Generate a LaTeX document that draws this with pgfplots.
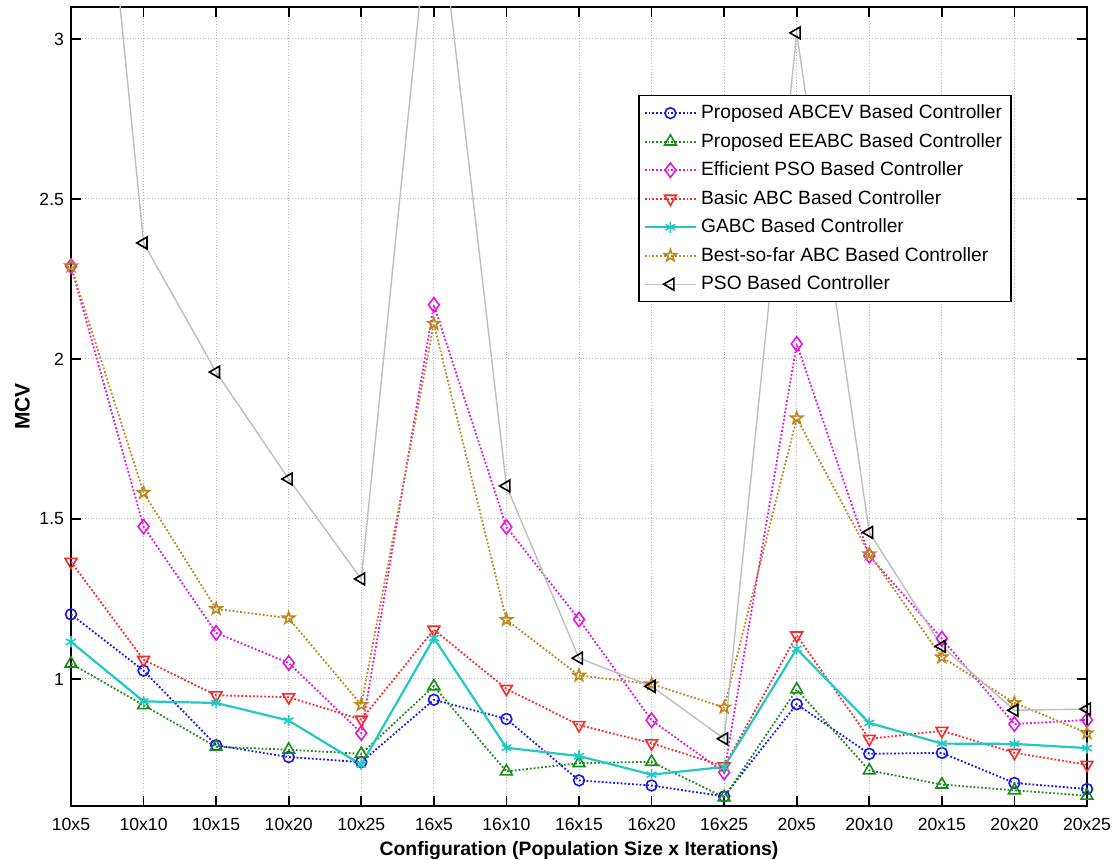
\documentclass[border=0pt]{standalone}
\usepackage{fontspec}
\setmainfont{Liberation Sans}
\usepackage{pgfplots}
\pgfplotsset{compat=1.18}
\usepackage{pgfplotstable}

\definecolor{cblue}{RGB}{20,20,245}
\definecolor{cgreen}{RGB}{25,140,25}
\definecolor{cmag}{RGB}{225,20,225}
\definecolor{cred}{RGB}{250,40,40}
\definecolor{ccyan}{RGB}{35,200,195}
\definecolor{corange}{RGB}{190,135,25}
\definecolor{cgray}{RGB}{190,190,190}

\pgfdeclareplotmark{pentagram}{%
  \pgfpathmoveto{\pgfpointpolar{90}{1.2\pgfplotmarksize}}%
  \pgfpathlineto{\pgfpointpolar{126}{0.48\pgfplotmarksize}}%
  \pgfpathlineto{\pgfpointpolar{162}{1.2\pgfplotmarksize}}%
  \pgfpathlineto{\pgfpointpolar{198}{0.48\pgfplotmarksize}}%
  \pgfpathlineto{\pgfpointpolar{234}{1.2\pgfplotmarksize}}%
  \pgfpathlineto{\pgfpointpolar{270}{0.48\pgfplotmarksize}}%
  \pgfpathlineto{\pgfpointpolar{306}{1.2\pgfplotmarksize}}%
  \pgfpathlineto{\pgfpointpolar{342}{0.48\pgfplotmarksize}}%
  \pgfpathlineto{\pgfpointpolar{18}{1.2\pgfplotmarksize}}%
  \pgfpathlineto{\pgfpointpolar{54}{0.48\pgfplotmarksize}}%
  \pgfpathclose
  \pgfusepathqstroke
}

\pgfplotstableread{
x abcev eeabc epso basic gabc bsf pso
0  1.202 1.048 2.290 1.366 1.116 2.290 4.650
1  1.026 0.918 1.476 1.060 0.930 1.582 2.3625
2  0.793 0.788 1.144 0.949 0.925 1.219 1.959
3  0.756 0.779 1.050 0.943 0.870 1.190 1.625
4  0.740 0.766 0.831 0.873 0.732 0.919 1.3125
5  0.935 0.977 2.169 1.154 1.128 2.110 3.550
6  0.875 0.711 1.475 0.969 0.785 1.185 1.603
7  0.683 0.737 1.186 0.856 0.759 1.011 1.065
8  0.667 0.741 0.871 0.799 0.701 0.984 0.977
9  0.633 0.630 0.708 0.727 0.725 0.911 0.813
10 0.921 0.967 2.047 1.136 1.094 1.815 3.019
11 0.766 0.714 1.385 0.813 0.8625 1.390 1.458
12 0.769 0.670 1.126 0.838 0.798 1.068 1.102
13 0.675 0.652 0.859 0.769 0.797 0.925 0.902
14 0.656 0.635 0.872 0.732 0.784 0.831 0.906
}\datatable

\begin{document}
\begin{tikzpicture}
\begin{axis}[
  scale only axis,
  width=508pt, height=399.5pt,
  xmin=0, xmax=14, ymin=0.603, ymax=3.1,
  xtick={0,...,14},
  xticklabels={10x5,10x10,10x15,10x20,10x25,16x5,16x10,16x15,16x20,16x25,20x5,20x10,20x15,20x20,20x25},
  ytick={1,1.5,2,2.5,3},
  yticklabels={1,1.5,2,2.5,3},
  tick pos=both, tick align=inside,
  major tick length=5pt,
  every tick/.style={black, line width=0.8pt},
  axis line style={black, line width=0.8pt},
  grid=major,
  major grid style={draw=gray!55, densely dotted, line width=0.5pt},
  ticklabel style={font=\fontsize{8.8}{10}\selectfont},
  xticklabel style={yshift=-2.5pt},
  xlabel={Configuration (Population Size x Iterations)},
  ylabel={MCV},
  xlabel style={font=\fontsize{9.7}{11}\selectfont\bfseries, yshift=1.5pt},
  ylabel style={font=\fontsize{10.5}{12}\selectfont\bfseries, yshift=-2pt},
  legend style={at={(rel axis cs:0.558,0.890)}, anchor=north west,
    font=\fontsize{9.6}{11}\selectfont, draw=black, line width=0.8pt,
    row sep=1.8pt, inner sep=2.5pt, cells={anchor=west}},
  legend cell align=left,
  legend image code/.code={\draw[mark repeat=2, mark phase=2] plot coordinates {(0cm,0cm) (0.45cm,0cm) (0.9cm,0cm)};},
]
\addplot[cblue, densely dotted, line width=0.9pt, mark=o, mark size=2.7pt, mark options={solid, line width=0.8pt}] table[x=x,y=abcev]{\datatable};
\addlegendentry{Proposed ABCEV Based Controller}
\addplot[cgreen, densely dotted, line width=0.9pt, mark=triangle, mark size=3.4pt, mark options={solid, line width=0.8pt}] table[x=x,y=eeabc]{\datatable};
\addlegendentry{Proposed EEABC Based Controller}
\addplot[cmag, densely dotted, line width=0.9pt, mark=diamond, mark size=3.6pt, mark options={solid, line width=0.8pt}] table[x=x,y=epso]{\datatable};
\addlegendentry{Efficient PSO Based Controller}
\addplot[cred, densely dotted, line width=0.9pt, mark=triangle, mark size=3.4pt, mark options={solid, rotate=180, line width=0.8pt}] table[x=x,y=basic]{\datatable};
\addlegendentry{Basic ABC Based Controller}
\addplot[ccyan, solid, line width=1.1pt, mark=asterisk, mark size=2.8pt, mark options={solid, line width=0.8pt}] table[x=x,y=gabc]{\datatable};
\addlegendentry{GABC Based Controller}
\addplot[corange, densely dotted, line width=0.9pt, mark=pentagram, mark size=2.6pt, mark options={solid, line width=0.8pt}] table[x=x,y=bsf]{\datatable};
\addlegendentry{Best-so-far ABC Based Controller}
\addplot[cgray, solid, line width=0.7pt, mark=triangle, mark size=3.4pt, mark options={black, solid, rotate=90, line width=0.8pt}] table[x=x,y=pso]{\datatable};
\addlegendentry{PSO Based Controller}
\end{axis}
\pgfresetboundingbox
\useasboundingbox (-35.5pt,-27pt) rectangle (524.5pt,403pt);
\end{tikzpicture}
\end{document}
